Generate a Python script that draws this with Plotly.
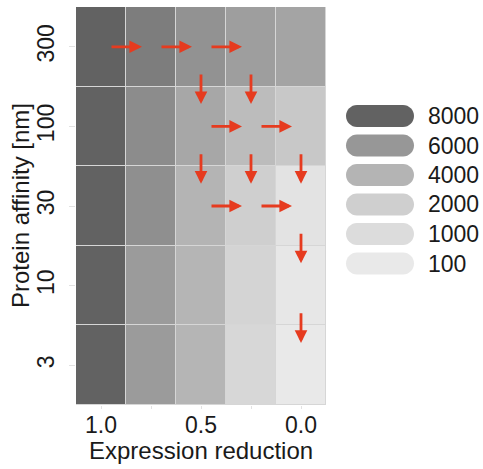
import plotly.graph_objects as go

# ---- data ----
expr_reduction = [1.0, 0.75, 0.5, 0.25, 0.0]          # columns (left -> right)
affinity = [3, 10, 30, 100, 300]                      # rows (bottom -> top)
x_ticktext = ["1.0", "", "0.5", "", "0.0"]
x_title = "Expression reduction"
y_title = "Protein affinity [nm]"

# cell values, one list per affinity row (bottom -> top)
z_aff3   = [8000, 5700, 3900, 1400, 100]
z_aff10  = [8000, 5700, 3900, 1600, 250]
z_aff30  = [8000, 6300, 4000, 2000, 550]
z_aff100 = [8000, 6400, 4900, 3400, 2500]
z_aff300 = [8000, 7000, 6200, 5500, 5100]
z = [z_aff3, z_aff10, z_aff30, z_aff100, z_aff300]

legend_levels = [8000, 6000, 4000, 2000, 1000, 100]
legend_colors = ["#626262", "#979797", "#b4b4b4", "#cfcfcf", "#dcdcdc", "#e9e9e9"]

# arrows: (from expr, from affinity) -> (to expr, to affinity)
arrows = [
    ((1.0, 300), (0.75, 300)), ((0.75, 300), (0.5, 300)), ((0.5, 300), (0.25, 300)),
    ((0.5, 300), (0.5, 100)), ((0.25, 300), (0.25, 100)),
    ((0.5, 100), (0.25, 100)), ((0.25, 100), (0.0, 100)),
    ((0.5, 100), (0.5, 30)), ((0.25, 100), (0.25, 30)), ((0.0, 100), (0.0, 30)),
    ((0.5, 30), (0.25, 30)), ((0.25, 30), (0.0, 30)),
    ((0.0, 30), (0.0, 10)), ((0.0, 10), (0.0, 3)),
]

# ---- styles ----
FONT = "Liberation Sans"
TXT = "#1a1a1a"
ARROW = "#e63b1f"

zmin, zmax = min(legend_levels), max(legend_levels)
cs = sorted(((lv - zmin) / (zmax - zmin), c) for lv, c in zip(legend_levels, legend_colors))

ypos = list(range(len(affinity)))
aff_idx = {a: i for i, a in enumerate(affinity)}

fig = go.Figure(go.Heatmap(
    x=expr_reduction, y=ypos, z=z, zmin=zmin, zmax=zmax,
    colorscale=cs, showscale=False, xgap=1, ygap=1, hoverinfo="skip",
))

annotations = []
for (x0, a0), (x1, a1) in arrows:
    y0, y1 = aff_idx[a0], aff_idx[a1]
    if y0 == y1:
        t, h = 0.18, 0.82
    else:
        t, h = 0.33, 0.72
    annotations.append(dict(
        x=x0 + (x1 - x0) * h, y=y0 + (y1 - y0) * h,
        ax=x0 + (x1 - x0) * t, ay=y0 + (y1 - y0) * t,
        xref="x", yref="y", axref="x", ayref="y", text="",
        showarrow=True, arrowhead=2, arrowsize=0.9, arrowwidth=2.8,
        arrowcolor=ARROW, standoff=0, startstandoff=0,
    ))

# legend (capsules + labels) in plot-fraction coordinates
plot_w, plot_h = 250, 398
shapes = []
lx = (380 - 76) / plot_w
first_center_px = 116
pitch_px = 29.5
W, H = 68, 22
r = H / 2
k = 0.5523 * r
hw = W / 2 - r
capsule = (f"M {-hw},{-r} L {hw},{-r} C {hw + k},{-r} {hw + r},{-k} {hw + r},0 "
           f"C {hw + r},{k} {hw + k},{r} {hw},{r} L {-hw},{r} "
           f"C {-hw - k},{r} {-hw - r},{k} {-hw - r},0 C {-hw - r},{-k} {-hw - k},{-r} {-hw},{-r} Z")
for i, (lv, c) in enumerate(zip(legend_levels, legend_colors)):
    cy_px = first_center_px + i * pitch_px
    ly = (405 - cy_px) / plot_h
    shapes.append(dict(
        type="path", xref="paper", yref="paper", xsizemode="pixel", ysizemode="pixel",
        xanchor=lx, yanchor=ly, path=capsule, fillcolor=c, line=dict(width=0), layer="above",
    ))
    annotations.append(dict(
        x=(426 - 76) / plot_w, y=ly, xref="paper", yref="paper", text=str(lv),
        showarrow=False, xanchor="left", yanchor="middle",
        font=dict(family=FONT, size=23, color=TXT),
    ))

# axis titles
annotations.append(dict(
    x=0.5, y=(405 - 450) / plot_h, xref="paper", yref="paper", text=x_title,
    showarrow=False, xanchor="center", yanchor="middle",
    font=dict(family=FONT, size=24, color=TXT),
))
annotations.append(dict(
    x=(20 - 76) / plot_w, y=0.5, xref="paper", yref="paper", text=y_title,
    showarrow=False, xanchor="center", yanchor="middle", textangle=-90,
    font=dict(family=FONT, size=24, color=TXT),
))

fig.update_layout(
    width=483, height=469,
    margin=dict(l=76, r=157, t=7, b=64),
    paper_bgcolor="white", plot_bgcolor="#d6d6d6",
    font=dict(family=FONT, color=TXT),
    shapes=shapes, annotations=annotations,
    showlegend=False,
)
fig.update_xaxes(
    range=[1.125, -0.125], tickvals=expr_reduction, ticktext=x_ticktext,
    ticks="outside", ticklen=3, tickcolor="#e2e2e2", showgrid=False, zeroline=False,
    showline=False, tickfont=dict(size=23, family=FONT, color=TXT),
    ticklabelstandoff=-4,
)
fig.update_yaxes(
    range=[-0.5, len(affinity) - 0.5], tickvals=ypos, ticktext=[str(a) for a in affinity],
    tickangle=-90, ticks="outside", ticklen=6, tickcolor="#e2e2e2", showgrid=False,
    zeroline=False, showline=False, tickfont=dict(size=23, family=FONT, color=TXT),
    ticklabelstandoff=6,
)

fig.write_html("out.html")
